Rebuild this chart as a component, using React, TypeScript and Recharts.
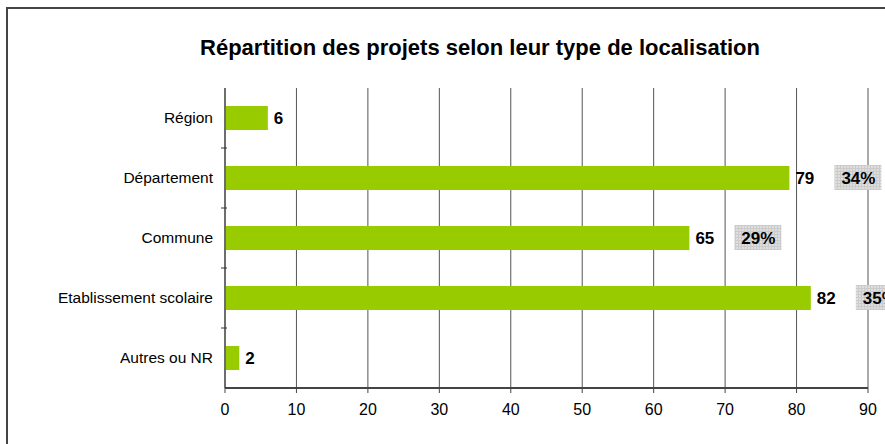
import { BarChart, Bar, XAxis, YAxis, CartesianGrid, LabelList } from 'recharts'

const categories = ['Région', 'Département', 'Commune', 'Etablissement scolaire', 'Autres ou NR']
const projets = [6, 79, 65, 82, 2]
const parts = ['', '34%', '29%', '35%', '']
const xTicks = [0, 10, 20, 30, 40, 50, 60, 70, 80, 90]

const data = categories.map((name, i) => ({ name, projets: projets[i], part: parts[i] }))

const FONT = '"Liberation Sans", Arial, sans-serif'

function CategoryTick(props: any) {
  const { x, y, payload, index } = props
  return (
    <g>
      {index > 0 && <line x1={x + 4} x2={x + 10} y1={y - 30} y2={y - 30} stroke="#333" strokeWidth={1} />}
      <text x={x - 4} y={y} dy={5} textAnchor="end" fontSize={15.5} fill="#000" fontFamily={FONT}>
        {payload.value}
      </text>
    </g>
  )
}

function PartLabel(props: any) {
  const { x, y, width, height, value } = props
  if (!value) return null
  const bx = x + width + 45
  const cy = y + height / 2
  return (
    <g>
      <rect x={bx} y={cy - 13} width={47} height={25} fill="url(#hatch)" />
      <text x={bx + 24} y={cy} dy={6} textAnchor="middle" fontSize={17} fontWeight="bold" fill="#000" fontFamily={FONT}>
        {value}
      </text>
    </g>
  )
}

export default function App() {
  return (
    <div style={{ position: 'absolute', left: 0, top: 0, width: 885, height: 444, overflow: 'hidden', background: '#fff' }}>
      <div style={{ position: 'absolute', left: 6, top: 7, width: 900, height: 460, border: '2px solid #444', boxSizing: 'border-box' }} />
      <div style={{ position: 'absolute', left: 0, top: 35, width: 960, textAlign: 'center', fontFamily: FONT, fontWeight: 'bold', fontSize: 22, lineHeight: '26px', color: '#000' }}>
        Répartition des projets selon leur type de localisation
      </div>
      <div style={{ position: 'absolute', left: 0, top: 0 }}>
        <BarChart width={885} height={444} layout="vertical" data={data} margin={{ top: 88, right: 17, bottom: 26, left: 0 }} barSize={24}>
          <defs>
            <pattern id="hatch" width={3} height={3} patternUnits="userSpaceOnUse">
              <rect width={3} height={3} fill="#dedede" />
              <path d="M0 0.5 H3 M0.5 0 V3" stroke="#cbcbcb" strokeWidth={1} />
            </pattern>
          </defs>
          <CartesianGrid vertical horizontal={false} stroke="#555" strokeWidth={1} />
          <XAxis
            type="number"
            domain={[0, 90]}
            ticks={xTicks}
            interval={0}
            height={30}
            axisLine={{ stroke: '#444', strokeWidth: 2 }}
            tickLine={{ stroke: '#444' }}
            tickSize={5}
            tick={{ fontSize: 16, fill: '#000', fontFamily: FONT }}
            tickMargin={11}
          />
          <YAxis
            type="category"
            dataKey="name"
            width={225}
            axisLine={{ stroke: '#333', strokeWidth: 1 }}
            tickLine={false}
            tick={<CategoryTick />}
          />
          <Bar dataKey="projets" fill="#99cc00" isAnimationActive={false}>
            <LabelList dataKey="projets" position="right" offset={6} fontSize={17} fontWeight="bold" fill="#000" fontFamily={FONT} />
            <LabelList dataKey="part" content={<PartLabel />} />
          </Bar>
        </BarChart>
      </div>
    </div>
  )
}
